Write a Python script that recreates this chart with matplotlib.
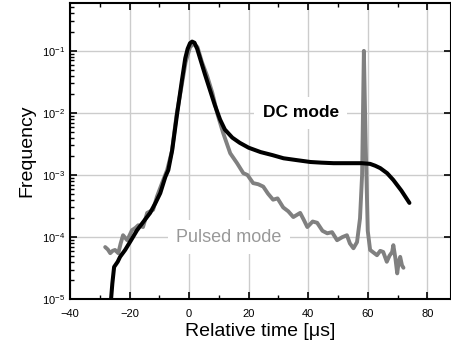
import matplotlib
matplotlib.use("Agg")
import matplotlib.pyplot as plt
from matplotlib.ticker import MultipleLocator, LogLocator, NullFormatter

plt.rcParams['font.family'] = ['Liberation Sans', 'DejaVu Sans']
plt.rcParams['mathtext.fontset'] = 'custom'
plt.rcParams['mathtext.rm'] = 'Liberation Sans'
plt.rcParams['mathtext.it'] = 'Liberation Sans:italic'
plt.rcParams['mathtext.bf'] = 'Liberation Sans:bold'

# DC mode (black)
dc_t = [-26.4, -25.8, -25.2, -24.0, -23.2, -21.5, -19.5, -17.5, -15.3, -13.1,
        -11.3, -9.7, -8.0, -7.0, -5.7, -4.0, -2.4, -1.3, -0.5, 0.3,
        1.0, 1.8, 2.7, 3.7, 5.3, 7.0, 8.6, 10.4, 12.0, 14.5,
        17.0, 20.0, 24.0, 28.0, 31.7, 36.0, 40.7, 44.5, 48.5, 54.0,
        58.0, 60.8, 62.5, 64.2, 66.5, 68.6, 71.3, 74.0]
dc_f = [7.9e-6, 1.78e-5, 3.3e-5, 4.0e-5, 4.8e-5, 6.2e-5, 8.9e-5, 1.29e-4, 1.78e-4, 2.45e-4,
        3.55e-4, 5.1e-4, 9.3e-4, 1.2e-3, 2.5e-3, 1.0e-2, 3.4e-2, 7.6e-2, 0.108, 0.133,
        0.141, 0.135, 0.108, 0.075, 0.042, 0.0234, 0.0135, 7.8e-3, 5.4e-3, 4.0e-3,
        3.3e-3, 2.75e-3, 2.34e-3, 2.09e-3, 1.86e-3, 1.74e-3, 1.62e-3, 1.58e-3, 1.55e-3, 1.55e-3,
        1.55e-3, 1.51e-3, 1.41e-3, 1.29e-3, 1.07e-3, 8.3e-4, 5.6e-4, 3.55e-4]

# Pulsed mode (gray)
pm_t = [-28.2, -27.3, -26.5, -25.7, -24.9, -23.8, -23.0, -22.2, -20.8, -19.2,
        -18.0, -17.1, -15.5, -14.1, -12.1, -10.8, -9.1, -7.4, -5.8, -4.2,
        -2.6, -1.2, 0.3, 1.5, 2.8, 4.3, 6.0, 7.8, 9.4, 11.4,
        13.8, 16.1, 18.2, 19.6, 21.5, 23.2, 24.9, 26.5, 28.2, 29.7,
        31.6, 33.3, 35.0, 37.3, 38.5, 39.7, 41.5, 43.0, 44.8, 46.4,
        48.0, 49.7, 51.5, 53.0, 54.0, 55.2, 56.4, 57.4, 58.1, 58.7,
        59.3, 60.0, 60.8, 62.0, 63.1, 64.2, 65.2, 66.4, 67.3, 68.2,
        68.6, 69.3, 69.9, 70.4, 70.9, 71.5, 72.0]
pm_f = [6.9e-5, 6.3e-5, 5.5e-5, 6.0e-5, 6.2e-5, 5.5e-5, 7.9e-5, 1.07e-4, 8.9e-5, 1.29e-4,
        1.41e-4, 1.55e-4, 1.45e-4, 2.45e-4, 2.75e-4, 4.5e-4, 7.4e-4, 1.2e-3, 2.4e-3, 9.5e-3,
        2.6e-2, 6.5e-2, 0.115, 0.13, 0.115, 0.066, 0.040, 0.021, 0.010, 4.8e-3,
        2.24e-3, 1.55e-3, 1.07e-3, 1.0e-3, 7.4e-4, 7.1e-4, 6.5e-4, 5.0e-4, 4.0e-4, 4.2e-4,
        3.0e-4, 2.6e-4, 2.1e-4, 2.45e-4, 1.9e-4, 1.45e-4, 1.78e-4, 1.7e-4, 1.26e-4, 1.15e-4,
        1.2e-4, 8.9e-5, 1.0e-4, 1.07e-4, 7.9e-5, 6.6e-5, 8.3e-5, 2.0e-4, 1.0e-3, 0.1,
        3.2e-3, 1.26e-4, 6.2e-5, 5.6e-5, 5.1e-5, 6.0e-5, 5.75e-5, 4.0e-5, 5.0e-5, 5.75e-5,
        7.4e-5, 4.5e-5, 2.6e-5, 4.0e-5, 4.8e-5, 3.5e-5, 3.2e-5]

fig = plt.figure(figsize=(4.52, 3.54), dpi=100)
ax = fig.add_axes([0.155, 0.155, 0.843, 0.837])

ax.set_yscale('log')
ax.set_xlim(-40, 88)
ax.set_ylim(1e-5, 0.594)

ax.grid(True, which='major', color='#cccccc', linewidth=1.0, zorder=0)
ax.set_axisbelow(True)

ax.plot(pm_t, pm_f, color='#808080', linewidth=2.8, zorder=3,
        solid_joinstyle='round', solid_capstyle='round')
ax.plot(dc_t, dc_f, color='black', linewidth=2.9, zorder=4,
        solid_joinstyle='round', solid_capstyle='round')

ax.text(37.5, 1.0e-2, 'DC mode', fontsize=12.5, fontweight='bold', color='black',
        ha='center', va='center', zorder=2,
        bbox=dict(facecolor='white', edgecolor='none', pad=6))
ax.text(13.4, 1.0e-4, 'Pulsed mode', fontsize=13, color='#999999',
        ha='center', va='center', zorder=2,
        bbox=dict(facecolor='white', edgecolor='none', pad=6))

ax.xaxis.set_major_locator(MultipleLocator(20))
ax.xaxis.set_minor_locator(MultipleLocator(10))
ax.yaxis.set_major_locator(LogLocator(base=10, numticks=10))
ax.yaxis.set_minor_locator(LogLocator(base=10, subs=range(2, 10), numticks=20))
ax.yaxis.set_minor_formatter(NullFormatter())

ax.tick_params(axis='both', which='major', direction='in', labelsize=8, width=1.2, length=5)
ax.tick_params(axis='both', which='minor', direction='in', width=1.0, length=3)
ax.tick_params(axis='x', which='both', top=True)
ax.tick_params(axis='y', which='major', right=True)
ax.tick_params(axis='y', which='minor', right=False)
ax.tick_params(axis='x', which='major', pad=7)

for s in ax.spines.values():
    s.set_linewidth(1.5)

ax.set_xlabel('Relative time [μs]', fontsize=14, labelpad=3)
ax.set_ylabel('Frequency', fontsize=14, labelpad=5)

fig.savefig('out.png', dpi=100)
